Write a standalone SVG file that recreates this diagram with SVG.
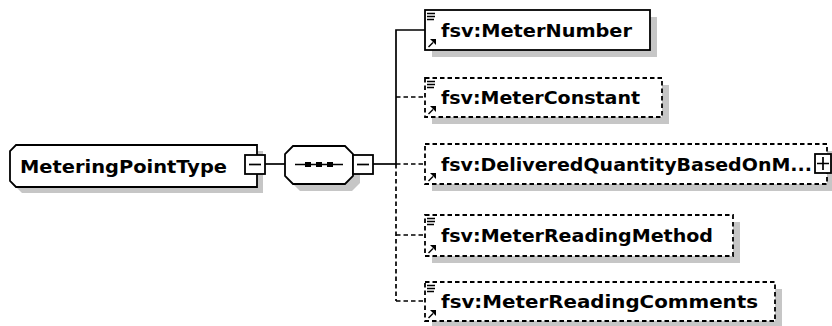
<svg xmlns="http://www.w3.org/2000/svg" width="832" height="326" viewBox="0 0 832 326">
<style>
.shadow{fill:#c6c6c6;stroke:none}
.box{fill:#fff;stroke:#000;stroke-width:1.8}
.dash{stroke-dasharray:4.5,3}
.line{fill:none;stroke:#000;stroke-width:1.7}
.lbl{font-family:"DejaVu Sans","Liberation Sans",sans-serif;font-weight:bold;font-size:18px;fill:#000}
.ico{stroke:#000;stroke-width:1.5;fill:none}
</style>
<defs>
<g id="elicons">
<path class="ico" d="M427 3.5H435M427 6.5H435M427 9.5H434"/>
</g>
<g id="elarrow">
<path class="ico" stroke-width="2" d="M428.5 -3L433 -7.5"/>
<polygon points="436,-11 430,-11 436,-5" fill="#000"/>
</g>
</defs>
<rect width="832" height="326" fill="#fff"/>

<g id="connectors">
<path class="line" d="M265 164H285"/>
<path class="line" d="M373 164H396"/>
<path class="line" d="M396 164V30H425"/>
<path class="line dash" d="M396 164V301"/>
<path class="line dash" d="M396 97H425"/>
<path class="line dash" d="M396 164H425"/>
<path class="line dash" d="M396 235H425"/>
<path class="line dash" d="M396 301H425"/>
</g>

<g id="MeteringPointType">
<path class="shadow" d="M22 151H263V193H22L16 187V157Z"/>
<path class="box" d="M16 145H257V187H16L10 181V151Z"/>
<text class="lbl" x="20" y="172.5" textLength="207" lengthAdjust="spacingAndGlyphs">MeteringPointType</text>
<rect class="box" x="245" y="155" width="20" height="19"/>
<path class="line" d="M249 164.5H261"/>
</g>

<g id="sequence">
<path class="shadow" d="M300 153H352L360 161V183L352 191H300L292 183V161Z"/>
<path class="box" d="M293 146H345L353 154V176L345 184H293L285 176V154Z"/>
<path class="line" d="M295 164.5H343"/>
<rect x="305" y="162" width="6" height="5" fill="#000"/>
<rect x="316" y="162" width="6" height="5" fill="#000"/>
<rect x="327" y="162" width="6" height="5" fill="#000"/>
<rect class="box" x="353" y="155" width="20" height="19"/>
<path class="line" d="M357 164.5H369"/>
</g>

<g id="MeterNumber">
<rect class="shadow" x="432" y="17" width="225" height="40"/>
<rect class="box" x="425" y="10" width="225" height="40"/>
<use href="#elicons" y="10"/>
<use href="#elarrow" y="50"/>
<text class="lbl" x="441" y="37" textLength="191" lengthAdjust="spacingAndGlyphs">fsv:MeterNumber</text>
</g>

<g id="MeterConstant">
<rect class="shadow" x="432" y="85" width="237" height="39"/>
<rect class="box dash" x="425" y="78" width="237" height="39"/>
<use href="#elicons" y="78"/>
<use href="#elarrow" y="117"/>
<text class="lbl" x="441" y="104" textLength="199" lengthAdjust="spacingAndGlyphs">fsv:MeterConstant</text>
</g>

<g id="DeliveredQuantityBasedOnM">
<rect class="shadow" x="432" y="151" width="402" height="40"/>
<rect class="box dash" x="425" y="144" width="402" height="40"/>
<use href="#elarrow" y="184"/>
<text class="lbl" x="441" y="171" textLength="371" lengthAdjust="spacingAndGlyphs">fsv:DeliveredQuantityBasedOnM...</text>
<rect class="box" x="815" y="154" width="16" height="19"/>
<path class="line" d="M817 163.5H829M823 157V170"/>
</g>

<g id="MeterReadingMethod">
<rect class="shadow" x="432" y="222" width="308" height="41"/>
<rect class="box dash" x="425" y="215" width="308" height="41"/>
<use href="#elicons" y="215"/>
<use href="#elarrow" y="256"/>
<text class="lbl" x="441" y="242" textLength="272" lengthAdjust="spacingAndGlyphs">fsv:MeterReadingMethod</text>
</g>

<g id="MeterReadingComments">
<rect class="shadow" x="432" y="289" width="350" height="39"/>
<rect class="box dash" x="425" y="282" width="350" height="39"/>
<use href="#elicons" y="282"/>
<use href="#elarrow" y="321"/>
<text class="lbl" x="441" y="308" textLength="317" lengthAdjust="spacingAndGlyphs">fsv:MeterReadingComments</text>
</g>
</svg>
